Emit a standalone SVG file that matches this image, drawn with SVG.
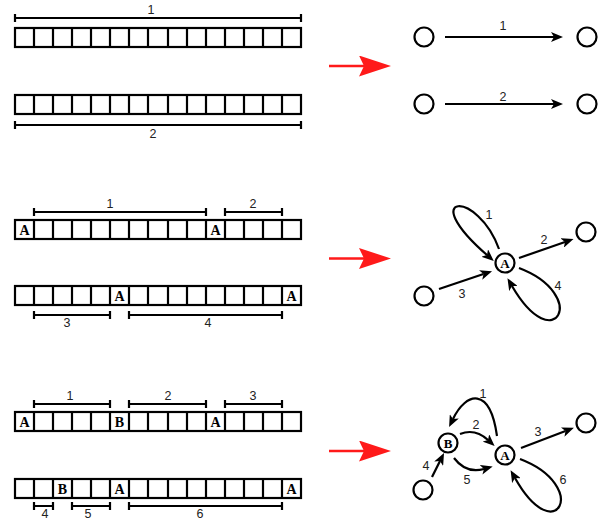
<svg xmlns="http://www.w3.org/2000/svg" width="600" height="521" viewBox="0 0 600 521">
  <defs>
    <style>
      .cell{fill:#fff;stroke:#000;stroke-width:2.2}
      .div{stroke:#000;stroke-width:2.2}
      .bar{fill:none;stroke:#000;stroke-width:2.2}
      .lbl{font-family:"Liberation Sans",Arial,sans-serif;font-size:12.5px;fill:#222;text-anchor:middle}
      .sym{font-family:"Liberation Serif","Times New Roman",serif;font-size:14px;font-weight:bold;fill:#000;text-anchor:middle}
      .nsym{font-family:"Liberation Serif","Times New Roman",serif;font-size:13px;font-weight:bold;fill:#000;text-anchor:middle}
      .node{fill:#fff;stroke:#000;stroke-width:2.2}
      .edge{fill:none;stroke:#000;stroke-width:2.2}
      .red{fill:none;stroke:#ff1a1a;stroke-width:2.5}
    </style>
    <marker id="arrow" markerUnits="userSpaceOnUse" viewBox="0 0 12 10" markerWidth="12" markerHeight="10" refX="3" refY="5" orient="auto">
      <path d="M0,0 L12,5 L0,10 L3,5 Z" fill="#000"/>
    </marker>
    <marker id="redArrow" markerUnits="userSpaceOnUse" viewBox="0 0 32 21" markerWidth="32" markerHeight="21" refX="5" refY="10.5" orient="auto">
      <path d="M0,0 L32,10.5 L0,21 L5,10.5 Z" fill="#ff1a1a"/>
    </marker>
    <!-- 15-cell strip, cell borders -->
    <g id="strip">
      <rect class="cell" x="15" y="0" width="286" height="19"/>
      <path class="div" d="M34,0V19M53,0V19M72,0V19M91,0V19M110,0V19M129,0V19M148,0V19M168,0V19M187,0V19M206,0V19M225,0V19M244,0V19M263,0V19M282,0V19"/>
    </g>
  </defs>
  <rect width="600" height="521" fill="#fff"/>

  <!-- ===== Section 1 ===== -->
  <g id="s1-strip-top">
    <use href="#strip" y="28"/>
    <path class="bar" d="M15,18H301M15,14V22M301,14V22"/>
    <text class="lbl" x="151" y="14">1</text>
  </g>
  <g id="s1-strip-bottom">
    <use href="#strip" y="95"/>
    <path class="bar" d="M15,125H301M15,121V129M301,121V129"/>
    <text class="lbl" x="153" y="138">2</text>
  </g>

  <!-- ===== Section 2 ===== -->
  <g id="s2-strip-top">
    <use href="#strip" y="220"/>
    <text class="sym" x="24.5" y="235">A</text>
    <text class="sym" x="215.5" y="235">A</text>
    <path class="bar" d="M34,212H206M34,208V216M206,208V216"/>
    <path class="bar" d="M225,212H282M225,208V216M282,208V216"/>
    <text class="lbl" x="110" y="208">1</text>
    <text class="lbl" x="253" y="208">2</text>
  </g>
  <g id="s2-strip-bottom">
    <use href="#strip" y="286"/>
    <text class="sym" x="119.5" y="301">A</text>
    <text class="sym" x="291.5" y="301">A</text>
    <path class="bar" d="M34,315H110M34,311V319M110,311V319"/>
    <path class="bar" d="M129,315H282M129,311V319M282,311V319"/>
    <text class="lbl" x="67" y="327">3</text>
    <text class="lbl" x="208" y="327">4</text>
  </g>

  <!-- ===== Section 3 ===== -->
  <g id="s3-strip-top">
    <use href="#strip" y="412"/>
    <text class="sym" x="24.5" y="427">A</text>
    <text class="sym" x="119.5" y="427">B</text>
    <text class="sym" x="215.5" y="427">A</text>
    <path class="bar" d="M34,404H110M34,400V408M110,400V408"/>
    <path class="bar" d="M129,404H206M129,400V408M206,400V408"/>
    <path class="bar" d="M225,404H282M225,400V408M282,400V408"/>
    <text class="lbl" x="70" y="400">1</text>
    <text class="lbl" x="168" y="400">2</text>
    <text class="lbl" x="253" y="400">3</text>
  </g>
  <g id="s3-strip-bottom">
    <use href="#strip" y="479"/>
    <text class="sym" x="62.5" y="494">B</text>
    <text class="sym" x="119.5" y="494">A</text>
    <text class="sym" x="291.5" y="494">A</text>
    <path class="bar" d="M34,506H53M34,502V510M53,502V510"/>
    <path class="bar" d="M72,506H110M72,502V510M110,502V510"/>
    <path class="bar" d="M129,506H282M129,502V510M282,502V510"/>
    <text class="lbl" x="45" y="518">4</text>
    <text class="lbl" x="88" y="518">5</text>
    <text class="lbl" x="200" y="518">6</text>
  </g>

  <!-- ===== Graph nodes ===== -->
  <g id="g1-n1"><circle class="node" cx="424" cy="37" r="9.5"/></g>
  <g id="g1-n2"><circle class="node" cx="587" cy="37" r="9.5"/></g>
  <g id="g1-n3"><circle class="node" cx="424" cy="104" r="9.5"/></g>
  <g id="g1-n4"><circle class="node" cx="587" cy="104" r="9.5"/></g>

  <g id="g2-A"><circle class="node" cx="505" cy="263" r="9.5"/><text class="nsym" x="505" y="267.5">A</text></g>
  <g id="g2-out"><circle class="node" cx="586" cy="232" r="9.5"/></g>
  <g id="g2-in"><circle class="node" cx="424" cy="296" r="9.5"/></g>

  <g id="g3-A"><circle class="node" cx="505" cy="455" r="9.5"/><text class="nsym" x="505" y="459.5">A</text></g>
  <g id="g3-B"><circle class="node" cx="448" cy="443" r="9.5"/><text class="nsym" x="448" y="447.5">B</text></g>
  <g id="g3-out"><circle class="node" cx="586" cy="423" r="9.5"/></g>
  <g id="g3-in"><circle class="node" cx="423" cy="490" r="9.5"/></g>

  <!-- ===== Connectors ===== -->
  <g id="connectors">
    <!-- transformation arrows -->
    <path class="red" d="M329,66H364" marker-end="url(#redArrow)"/>
    <path class="red" d="M329,258.5H364" marker-end="url(#redArrow)"/>
    <path class="red" d="M329,451H364" marker-end="url(#redArrow)"/>

    <!-- graph 1 -->
    <path class="edge" d="M445,37H554" marker-end="url(#arrow)"/>
    <path class="edge" d="M445,104H554" marker-end="url(#arrow)"/>

    <!-- graph 2 -->
    <path class="edge" d="M499,249 C478,190 415,192 487,255" marker-end="url(#arrow)"/>
    <path class="edge" d="M519,258 L565,242" marker-end="url(#arrow)"/>
    <path class="edge" d="M439,289 L483.5,274" marker-end="url(#arrow)"/>
    <path class="edge" d="M519,268 C590,295 555,360 512,286" marker-end="url(#arrow)"/>

    <!-- graph 3 -->
    <path class="edge" d="M497,436 C490,386 466,392 453,419" marker-end="url(#arrow)"/>
    <path class="edge" d="M460,434 Q475,428 488,440" marker-end="url(#arrow)"/>
    <path class="edge" d="M521,448 L565.5,431" marker-end="url(#arrow)"/>
    <path class="edge" d="M432,477 L440,461" marker-end="url(#arrow)"/>
    <path class="edge" d="M454,458 Q466,474 484,469" marker-end="url(#arrow)"/>
    <path class="edge" d="M520,459 C591,486 556,551 515,478" marker-end="url(#arrow)"/>
  </g>

  <!-- edge labels -->
  <g id="edge-labels">
    <text class="lbl" x="503" y="30">1</text>
    <text class="lbl" x="503" y="101">2</text>
    <text class="lbl" x="489" y="219">1</text>
    <text class="lbl" x="544" y="244">2</text>
    <text class="lbl" x="462" y="298">3</text>
    <text class="lbl" x="558" y="290">4</text>
    <text class="lbl" x="483" y="397.5">1</text>
    <text class="lbl" x="476" y="429">2</text>
    <text class="lbl" x="538" y="436">3</text>
    <text class="lbl" x="426" y="470">4</text>
    <text class="lbl" x="467" y="484">5</text>
    <text class="lbl" x="563" y="484">6</text>
  </g>
</svg>
